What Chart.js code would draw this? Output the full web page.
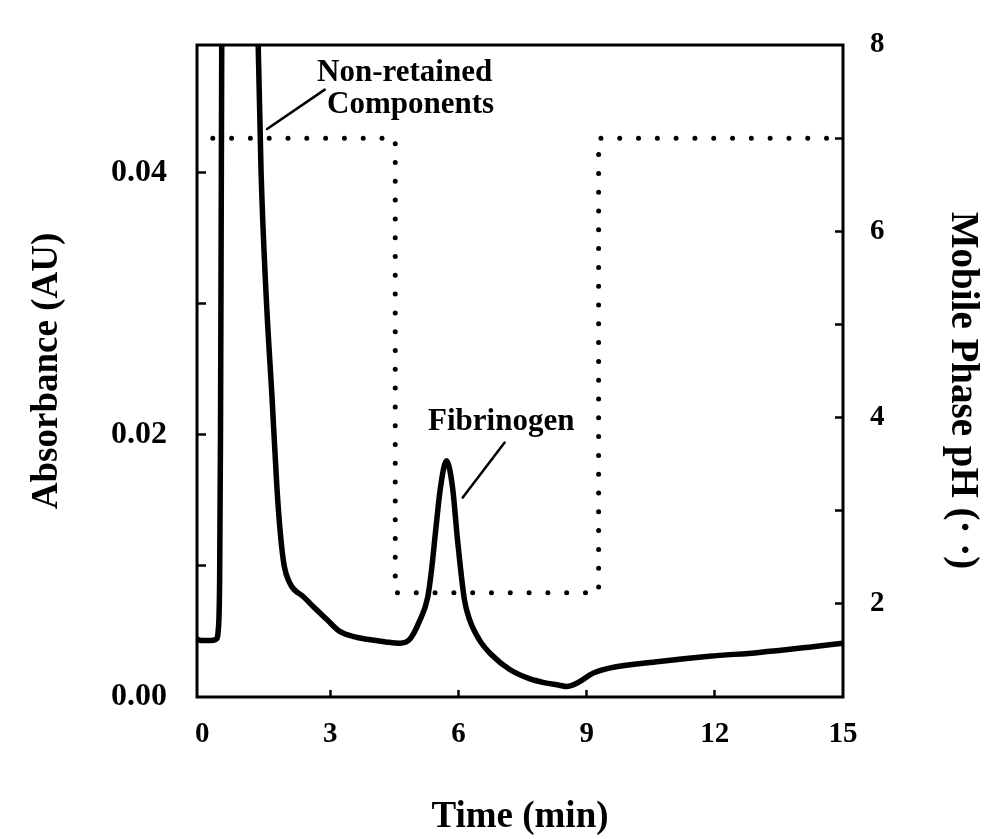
<!DOCTYPE html>
<html><head><meta charset="utf-8">
<script src="https://cdn.jsdelivr.net/npm/chart.js@4.4.1/dist/chart.umd.min.js"></script>
<style>html,body{margin:0;padding:0;background:#fff;}canvas{display:block;}</style>
</head><body>
<canvas id="c" width="999" height="839"></canvas>
<script>
// ---- data ----
const timeAbs = [-0.12,0.0,0.2,0.33,0.38,0.41,0.43,0.45,0.47,0.52,1.20,1.27,1.31,1.38,1.50,1.64,1.75,1.83,1.92,2.05,2.15,2.35,2.60,2.92,3.22,3.55,3.86,4.30,4.63,4.86,5.09,5.28,5.37,5.46,5.58,5.72,5.86,5.98,6.14,6.26,6.50,6.78,7.20,7.66,8.00,8.36,8.53,8.80,9.14,9.53,10.70,11.87,13.04,14.20,15.00];
const absorbance = [0.0044,0.0043,0.0043,0.0044,0.0052,0.0090,0.0200,0.0400,0.0600,0.0800,0.0800,0.0600,0.0500,0.0400,0.0305,0.0226,0.0160,0.0125,0.0100,0.0087,0.0082,0.0077,0.0069,0.0059,0.0050,0.0046,0.0044,0.0042,0.0041,0.0044,0.0058,0.0076,0.0097,0.0125,0.0160,0.0180,0.0160,0.0119,0.0074,0.0059,0.0043,0.0032,0.0021,0.0014,0.0011,0.0009,0.0008,0.0011,0.0018,0.0022,0.0027,0.0031,0.0034,0.0038,0.0041];
const timePH = [0.25,4.52,4.52,9.28,9.28,14.95];
const phValues = [7.0,7.0,2.12,2.12,7.0,7.0];
const xTicks = [0,3,6,9,12,15];
const xLabels = ['0','3','6','9','12','15'];
const absTicks = [0,0.01,0.02,0.03,0.04];
const absLabels = ['0.00','','0.02','','0.04'];
const phTicks = [2,3,4,5,6,7,8];
const phLabels = ['2','','4','','6','','8'];

// ---- styling / layout ----
const FONT = "'Liberation Serif','Times New Roman','DejaVu Serif',serif";
const annotations = {
  texts: [
    {text:'Non-retained', t:4.74, a:0.0476},
    {text:'Components', t:4.88, a:0.0451},
    {text:'Fibrinogen', t:7.0, a:0.0210}
  ],
  lines: [[1.52,0.0433,2.87,0.0463],[6.10,0.0152,7.08,0.0194]]
};

const framePlugin = {
  id:'frame',
  afterDraw(chart){
    const {ctx, chartArea:ca, scales} = chart;
    ctx.save();
    ctx.strokeStyle = '#000';
    ctx.lineWidth = 3;
    ctx.strokeRect(ca.left, ca.top, ca.right-ca.left, ca.bottom-ca.top);
    const x = scales.x, y = scales.y;
    ctx.lineWidth = 2.5;
    ctx.lineCap = 'round';
    annotations.lines.forEach(l=>{
      ctx.beginPath();
      ctx.moveTo(x.getPixelForValue(l[0]), y.getPixelForValue(l[1]));
      ctx.lineTo(x.getPixelForValue(l[2]), y.getPixelForValue(l[3]));
      ctx.stroke();
    });
    ctx.fillStyle = '#000';
    ctx.font = "bold 31px " + FONT;
    ctx.textAlign = 'center';
    ctx.textBaseline = 'middle';
    annotations.texts.forEach(tx=>{
      ctx.fillText(tx.text, x.getPixelForValue(tx.t), y.getPixelForValue(tx.a));
    });
    ctx.restore();
  }
};

function noPad(s){ s.paddingTop = 0; s.paddingBottom = 0; s.paddingLeft = 0; s.paddingRight = 0; }

const xTickFont = {family:FONT, size:29, weight:'bold'};
const yTickFont = {family:FONT, size:32, weight:'bold'};
const titleFont = {family:FONT, size:37, weight:'bold', lineHeight:1};

new Chart(document.getElementById('c'), {
  type:'line',
  data:{
    datasets:[
      {
        label:'Absorbance',
        data: timeAbs.map((t,i)=>({x:t, y:absorbance[i]})),
        yAxisID:'y',
        borderColor:'#000',
        borderWidth:5.5,
        pointRadius:0,
        cubicInterpolationMode:'monotone',
        borderJoinStyle:'round',
        borderCapStyle:'round',
        fill:false
      },
      {
        label:'pH',
        data: timePH.map((t,i)=>({x:t, y:phValues[i]})),
        yAxisID:'y2',
        borderColor:'#000',
        borderWidth:5,
        borderDash:[0,18.8],
        borderCapStyle:'round',
        pointRadius:0,
        tension:0,
        fill:false
      }
    ]
  },
  options:{
    responsive:false,
    animation:false,
    devicePixelRatio:1,
    layout:{padding:{top:45,left:0,right:0,bottom:0}},
    plugins:{legend:{display:false}, tooltip:{enabled:false}},
    scales:{
      x:{
        type:'linear', min:-0.12, max:15,
        afterBuildTicks(s){ s.ticks = xTicks.map(v=>({value:v})); },
        afterFit(s){ s.height = 142; noPad(s); },
        border:{display:false},
        grid:{display:true, drawOnChartArea:false, drawTicks:true, tickLength:-7, tickWidth:2.5,
              tickColor:(c)=> (c.tick && (c.tick.value===0 || c.tick.value===15)) ? 'rgba(0,0,0,0)' : '#000'},
        ticks:{font:xTickFont, color:'#000', padding:27, autoSkip:false, maxRotation:0,
               callback:(v)=>{const i=xTicks.indexOf(v); return i<0?'':xLabels[i];}},
        title:{display:true, text:'Time (min)', font:titleFont, color:'#000', padding:{top:0,bottom:3}}
      },
      y:{
        type:'linear', position:'left', min:0, max:0.0497,
        afterBuildTicks(s){ s.ticks = absTicks.map(v=>({value:v})); },
        afterFit(s){ s.width = 197; noPad(s); },
        border:{display:false},
        grid:{display:true, drawOnChartArea:false, drawTicks:true, tickLength:-9, tickWidth:2.5,
              tickColor:(c)=> (c.tick && c.tick.value===0) ? 'rgba(0,0,0,0)' : '#000'},
        ticks:{font:yTickFont, color:'#000', padding:39, autoSkip:false,
               callback:(v)=>{const i=absTicks.findIndex(a=>Math.abs(a-v)<1e-9); return i<0?'':absLabels[i];}},
        title:{display:true, text:'Absorbance (AU)', font:titleFont, color:'#000', padding:{top:29,bottom:0}}
      },
      y2:{
        type:'linear', position:'right', min:1, max:8,
        afterBuildTicks(s){ s.ticks = phTicks.map(v=>({value:v})); },
        afterFit(s){ s.width = 156; noPad(s); },
        border:{display:false},
        grid:{display:true, drawOnChartArea:false, drawTicks:true, tickLength:-8, tickWidth:2.5,
              tickColor:(c)=> (c.tick && c.tick.value===8) ? 'rgba(0,0,0,0)' : '#000'},
        ticks:{font:xTickFont, color:'#000', padding:35, autoSkip:false,
               callback:(v)=>{const i=phTicks.indexOf(v); return i<0?'':phLabels[i];}},
        title:{display:true, text:'    Mobile Phase pH (\u00B7 \u00B7)', font:{family:FONT, size:39, weight:'bold', lineHeight:1}, color:'#000', padding:{top:17,bottom:0}}
      }
    }
  },
  plugins:[framePlugin]
});
</script>
</body></html>
